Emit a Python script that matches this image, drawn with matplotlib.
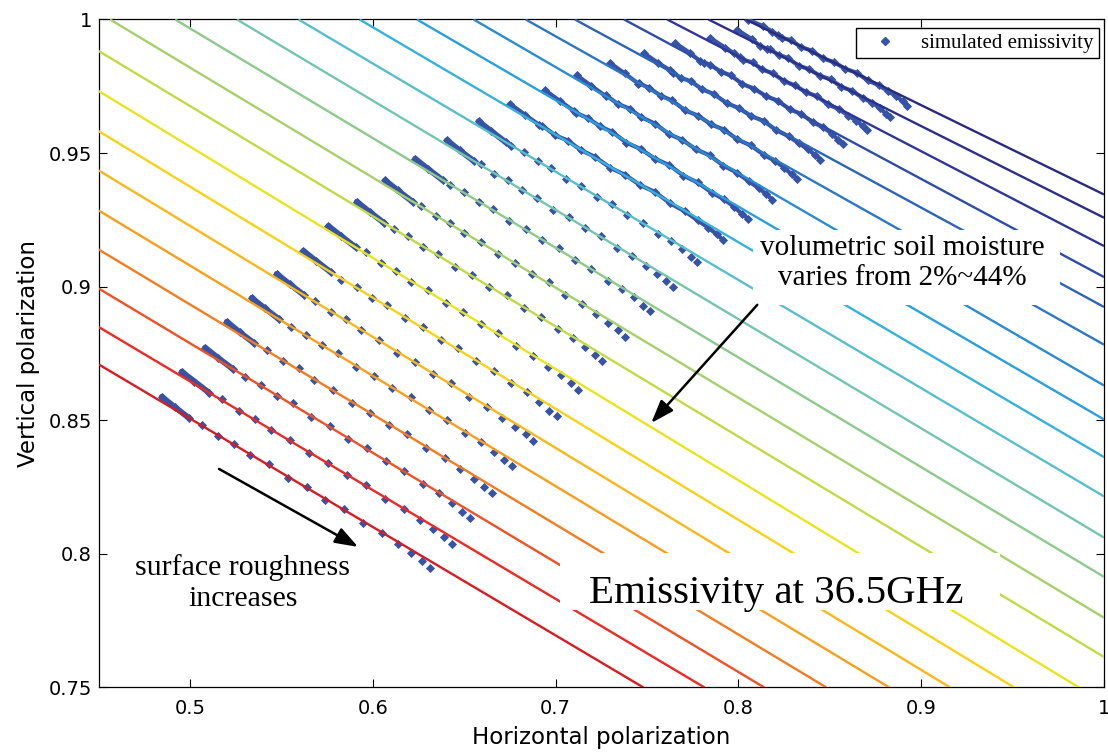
import numpy as np
import matplotlib
matplotlib.use("Agg")
import matplotlib.pyplot as plt
from matplotlib.lines import Line2D
from matplotlib.patches import Rectangle
from matplotlib.colors import LinearSegmentedColormap

# ---------------- data ----------------
# constant-moisture lines: visible end points (H, V), bottom line first (wettest)
line_h_start = [0.45, 0.45, 0.45, 0.45, 0.45, 0.45, 0.45, 0.45, 0.45,
                0.4562, 0.4918, 0.5256, 0.5593, 0.5927, 0.6241, 0.6551,
                0.6836, 0.7105, 0.7374, 0.7610, 0.7836, 0.8040]
line_v_start = [0.8709, 0.8849, 0.8993, 0.9139, 0.9285, 0.9435, 0.9582, 0.9732, 0.9882,
                1.0, 1.0, 1.0, 1.0, 1.0, 1.0, 1.0, 1.0, 1.0, 1.0, 1.0, 1.0, 1.0]
line_h_end = [0.7480, 0.7814, 0.8141, 0.8481, 0.8825, 0.9158, 0.9509, 0.9863,
              1.0, 1.0, 1.0, 1.0, 1.0, 1.0, 1.0, 1.0, 1.0, 1.0, 1.0, 1.0, 1.0, 1.0]
line_v_end = [0.75, 0.75, 0.75, 0.75, 0.75, 0.75, 0.75, 0.75,
              0.7614, 0.7761, 0.7914, 0.8061, 0.8215, 0.8362, 0.8503, 0.8630,
              0.8783, 0.8924, 0.9036, 0.9152, 0.9258, 0.9345]

# simulated emissivity: dense start of each cluster
dense_h = [
    [0.4845, 0.4915, 0.4995], [0.4954, 0.5024, 0.5104], [0.5082, 0.5152, 0.5232],
    [0.5201, 0.5271, 0.5351], [0.5337, 0.5407, 0.5487], [0.5474, 0.5544, 0.5624],
    [0.5620, 0.5690, 0.5770], [0.5757, 0.5827, 0.5907], [0.5912, 0.5982, 0.6062],
    [0.6067, 0.6137, 0.6217], [0.6231, 0.6301, 0.6381], [0.6405, 0.6475, 0.6555],
    [0.6578, 0.6648, 0.6728], [0.6751, 0.6831, 0.6911], [0.6943, 0.7023, 0.7103],
    [0.7116, 0.7196, 0.7276], [0.7298, 0.7378, 0.7458], [0.7481, 0.7561, 0.7641],
    [0.7654, 0.7734, 0.7814], [0.7846, 0.7926, 0.8006], [0.7994, 0.8074, 0.8154],
    [0.8054, 0.8134, 0.8214]]
dense_v = [
    [0.8588, 0.8550, 0.8508], [0.8682, 0.8645, 0.8603], [0.8772, 0.8734, 0.8693],
    [0.8869, 0.8830, 0.8788], [0.8958, 0.8920, 0.8878], [0.9048, 0.9010, 0.8968],
    [0.9134, 0.9096, 0.9054], [0.9227, 0.9189, 0.9147], [0.9318, 0.9280, 0.9238],
    [0.9398, 0.9360, 0.9318], [0.9479, 0.9441, 0.9399], [0.9548, 0.9510, 0.9469],
    [0.9619, 0.9582, 0.9540], [0.9684, 0.9644, 0.9605], [0.9735, 0.9695, 0.9656],
    [0.9791, 0.9751, 0.9712], [0.9837, 0.9798, 0.9761], [0.9875, 0.9837, 0.9801],
    [0.9912, 0.9875, 0.9838], [0.9931, 0.9895, 0.9859], [0.9961, 0.9926, 0.9891],
    [0.9999, 0.9975, 0.9942]]

# simulated emissivity: remaining points of each cluster
pts_h = [
    [0.5065, 0.5153, 0.5241, 0.5329, 0.5432, 0.5535, 0.5638, 0.5740, 0.5843, 0.5946, 0.6049, 0.6137, 0.6210, 0.6269, 0.6313],
    [0.5176, 0.5265, 0.5354, 0.5442, 0.5546, 0.5650, 0.5753, 0.5857, 0.5960, 0.6064, 0.6168, 0.6256, 0.6330, 0.6390, 0.6434],
    [0.5300, 0.5387, 0.5474, 0.5561, 0.5662, 0.5764, 0.5866, 0.5967, 0.6069, 0.6170, 0.6272, 0.6359, 0.6431, 0.6489, 0.6533],
    [0.5419, 0.5506, 0.5593, 0.5680, 0.5782, 0.5883, 0.5985, 0.6087, 0.6188, 0.6290, 0.6392, 0.6479, 0.6551, 0.6609, 0.6653],
    [0.5551, 0.5636, 0.5722, 0.5807, 0.5907, 0.6007, 0.6107, 0.6206, 0.6306, 0.6406, 0.6506, 0.6591, 0.6662, 0.6719, 0.6762],
    [0.5684, 0.5769, 0.5853, 0.5937, 0.6035, 0.6133, 0.6232, 0.6330, 0.6428, 0.6526, 0.6624, 0.6709, 0.6779, 0.6835, 0.6877],
    [0.5828, 0.5911, 0.5995, 0.6078, 0.6175, 0.6272, 0.6370, 0.6467, 0.6564, 0.6661, 0.6758, 0.6841, 0.6911, 0.6966, 0.7008],
    [0.5962, 0.6044, 0.6126, 0.6208, 0.6303, 0.6399, 0.6495, 0.6590, 0.6686, 0.6782, 0.6877, 0.6959, 0.7027, 0.7082, 0.7123],
    [0.6113, 0.6194, 0.6275, 0.6355, 0.6449, 0.6543, 0.6637, 0.6731, 0.6825, 0.6919, 0.7013, 0.7094, 0.7161, 0.7215, 0.7255],
    [0.6264, 0.6343, 0.6422, 0.6501, 0.6593, 0.6685, 0.6777, 0.6869, 0.6961, 0.7053, 0.7144, 0.7223, 0.7289, 0.7342, 0.7381],
    [0.6424, 0.6501, 0.6578, 0.6656, 0.6746, 0.6836, 0.6926, 0.7016, 0.7106, 0.7196, 0.7286, 0.7364, 0.7428, 0.7479, 0.7518],
    [0.6591, 0.6665, 0.6739, 0.6814, 0.6900, 0.6987, 0.7074, 0.7160, 0.7247, 0.7334, 0.7420, 0.7494, 0.7556, 0.7606, 0.7643],
    [0.6758, 0.6829, 0.6901, 0.6973, 0.7057, 0.7141, 0.7224, 0.7308, 0.7392, 0.7476, 0.7560, 0.7631, 0.7691, 0.7739, 0.7775],
    [0.6926, 0.6996, 0.7066, 0.7136, 0.7217, 0.7299, 0.7381, 0.7462, 0.7544, 0.7626, 0.7707, 0.7777, 0.7835, 0.7882, 0.7917],
    [0.7110, 0.7176, 0.7243, 0.7310, 0.7387, 0.7465, 0.7543, 0.7621, 0.7698, 0.7776, 0.7854, 0.7921, 0.7976, 0.8021, 0.8054],
    [0.7276, 0.7340, 0.7405, 0.7469, 0.7544, 0.7618, 0.7693, 0.7768, 0.7843, 0.7918, 0.7993, 0.8057, 0.8110, 0.8153, 0.8185],
    [0.7452, 0.7513, 0.7574, 0.7636, 0.7708, 0.7779, 0.7851, 0.7923, 0.7994, 0.8066, 0.8138, 0.8199, 0.8250, 0.8291, 0.8322],
    [0.7626, 0.7684, 0.7742, 0.7800, 0.7868, 0.7935, 0.8003, 0.8071, 0.8139, 0.8206, 0.8274, 0.8332, 0.8380, 0.8419, 0.8448],
    [0.7792, 0.7847, 0.7902, 0.7958, 0.8022, 0.8086, 0.8151, 0.8215, 0.8280, 0.8344, 0.8408, 0.8464, 0.8510, 0.8546, 0.8574],
    [0.7975, 0.8026, 0.8078, 0.8129, 0.8190, 0.8250, 0.8310, 0.8370, 0.8430, 0.8490, 0.8550, 0.8602, 0.8645, 0.8679, 0.8705],
    [0.8120, 0.8170, 0.8220, 0.8270, 0.8329, 0.8387, 0.8446, 0.8505, 0.8563, 0.8622, 0.8680, 0.8731, 0.8772, 0.8806, 0.8831],
    [0.8185, 0.8237, 0.8289, 0.8341, 0.8402, 0.8463, 0.8524, 0.8585, 0.8646, 0.8707, 0.8767, 0.8820, 0.8863, 0.8898, 0.8924]]
pts_v = [
    [0.8484, 0.8441, 0.8413, 0.8370, 0.8335, 0.8285, 0.8249, 0.8203, 0.8168, 0.8117, 0.8079, 0.8037, 0.8003, 0.7973, 0.7947],
    [0.8578, 0.8535, 0.8506, 0.8463, 0.8427, 0.8377, 0.8341, 0.8294, 0.8258, 0.8207, 0.8168, 0.8126, 0.8092, 0.8062, 0.8036],
    [0.8662, 0.8633, 0.8592, 0.8563, 0.8512, 0.8477, 0.8431, 0.8396, 0.8346, 0.8310, 0.8261, 0.8226, 0.8191, 0.8157, 0.8135],
    [0.8764, 0.8722, 0.8694, 0.8651, 0.8615, 0.8565, 0.8529, 0.8482, 0.8448, 0.8397, 0.8358, 0.8316, 0.8282, 0.8252, 0.8226],
    [0.8849, 0.8821, 0.8780, 0.8751, 0.8701, 0.8667, 0.8620, 0.8586, 0.8537, 0.8501, 0.8453, 0.8418, 0.8383, 0.8350, 0.8328],
    [0.8947, 0.8905, 0.8878, 0.8836, 0.8801, 0.8752, 0.8717, 0.8672, 0.8638, 0.8588, 0.8550, 0.8509, 0.8476, 0.8447, 0.8421],
    [0.9026, 0.8999, 0.8959, 0.8931, 0.8881, 0.8848, 0.8802, 0.8769, 0.8721, 0.8685, 0.8638, 0.8604, 0.8569, 0.8536, 0.8515],
    [0.9128, 0.9087, 0.9060, 0.9019, 0.8986, 0.8938, 0.8904, 0.8859, 0.8826, 0.8778, 0.8741, 0.8701, 0.8668, 0.8640, 0.8615],
    [0.9214, 0.9188, 0.9149, 0.9122, 0.9074, 0.9043, 0.8999, 0.8967, 0.8920, 0.8887, 0.8841, 0.8809, 0.8775, 0.8743, 0.8722],
    [0.9303, 0.9263, 0.9239, 0.9200, 0.9168, 0.9122, 0.9090, 0.9047, 0.9016, 0.8969, 0.8934, 0.8896, 0.8865, 0.8837, 0.8813],
    [0.9379, 0.9354, 0.9317, 0.9292, 0.9246, 0.9216, 0.9174, 0.9144, 0.9099, 0.9067, 0.9023, 0.8992, 0.8960, 0.8929, 0.8909],
    [0.9458, 0.9421, 0.9398, 0.9361, 0.9332, 0.9288, 0.9259, 0.9218, 0.9190, 0.9146, 0.9113, 0.9077, 0.9047, 0.9021, 0.8998],
    [0.9525, 0.9503, 0.9469, 0.9446, 0.9403, 0.9376, 0.9337, 0.9310, 0.9268, 0.9239, 0.9199, 0.9170, 0.9140, 0.9111, 0.9092],
    [0.9603, 0.9567, 0.9547, 0.9512, 0.9485, 0.9445, 0.9418, 0.9380, 0.9354, 0.9312, 0.9282, 0.9248, 0.9221, 0.9196, 0.9174],
    [0.9651, 0.9631, 0.9600, 0.9579, 0.9539, 0.9515, 0.9479, 0.9455, 0.9416, 0.9390, 0.9352, 0.9327, 0.9299, 0.9271, 0.9254],
    [0.9716, 0.9684, 0.9666, 0.9634, 0.9610, 0.9572, 0.9549, 0.9514, 0.9491, 0.9453, 0.9426, 0.9394, 0.9369, 0.9346, 0.9325],
    [0.9760, 0.9743, 0.9715, 0.9697, 0.9660, 0.9640, 0.9607, 0.9587, 0.9551, 0.9529, 0.9494, 0.9471, 0.9446, 0.9420, 0.9404],
    [0.9810, 0.9782, 0.9768, 0.9739, 0.9720, 0.9687, 0.9668, 0.9638, 0.9620, 0.9586, 0.9563, 0.9536, 0.9514, 0.9493, 0.9475],
    [0.9843, 0.9830, 0.9805, 0.9791, 0.9758, 0.9741, 0.9713, 0.9696, 0.9664, 0.9646, 0.9615, 0.9596, 0.9573, 0.9549, 0.9535],
    [0.9874, 0.9849, 0.9839, 0.9813, 0.9798, 0.9769, 0.9753, 0.9727, 0.9713, 0.9682, 0.9664, 0.9640, 0.9621, 0.9602, 0.9585],
    [0.9900, 0.9890, 0.9867, 0.9856, 0.9827, 0.9814, 0.9789, 0.9776, 0.9748, 0.9733, 0.9706, 0.9689, 0.9669, 0.9648, 0.9635],
    [0.9955, 0.9931, 0.9922, 0.9897, 0.9883, 0.9854, 0.9840, 0.9815, 0.9801, 0.9772, 0.9754, 0.9731, 0.9713, 0.9695, 0.9678]]

x_ticks = [0.5, 0.6, 0.7, 0.8, 0.9, 1.0]
x_tick_labels = ["0.5", "0.6", "0.7", "0.8", "0.9", "1"]
y_ticks = [0.75, 0.8, 0.85, 0.9, 0.95, 1.0]
y_tick_labels = ["0.75", "0.8", "0.85", "0.9", "0.95", "1"]

x_label = "Horizontal polarization"
y_label = "Vertical polarization"
legend_label = "simulated emissivity"
moisture_note = "volumetric soil moisture\nvaries from 2%~44%"
roughness_note = "surface roughness\nincreases"
title_note = "Emissivity at 36.5GHz"

# annotation arrows (tail -> head) in data coordinates
roughness_arrow_tail = (0.5158, 0.8318)
roughness_arrow_head = (0.5919, 0.8026)
moisture_arrow_tail = (0.8103, 0.8932)
moisture_arrow_head = (0.7523, 0.8490)

# ---------------- drawing ----------------
band_from = 13                 # clusters drawn as a continuous band
marker_color = "#3653a6"
serif = "Liberation Serif"

# jet-like colour scale as it appears in the (print-converted) reference
print_jet = LinearSegmentedColormap.from_list("print_jet", [
    (0.00, "#262a6e"), (0.11, "#2e3192"), (0.23, "#2b6fc0"), (0.36, "#29abe2"),
    (0.43, "#62c3c6"), (0.50, "#8cc98e"), (0.57, "#b6d552"), (0.64, "#f4e714"),
    (0.70, "#fbbd18"), (0.77, "#f7941d"), (0.83, "#f15a24"), (0.89, "#ed1c24"),
    (1.00, "#a3191f")])

fig = plt.figure(figsize=(11.08, 7.52), dpi=100)
ax = fig.add_axes([0.0891, 0.0858, 0.9073, 0.8883])
ax.set_xlim(0.45, 1.0)
ax.set_ylim(0.75, 1.0)

shades = np.linspace(0.92, 0.04, len(line_h_start))
for i in range(len(line_h_start)):
    ax.plot([line_h_start[i], line_h_end[i]], [line_v_start[i], line_v_end[i]],
            color=print_jet(shades[i]), lw=1.7, zorder=4, solid_capstyle="butt")

for k in range(len(dense_h)):
    if k >= band_from:
        hh = np.array(dense_h[k] + pts_h[k])
        vv = np.array(dense_v[k] + pts_v[k])
        order = np.argsort(hh)
        ax.plot(hh[order], vv[order], color=marker_color, lw=3.0, zorder=3,
                solid_capstyle="round", solid_joinstyle="round")
    else:
        ax.plot(dense_h[k], dense_v[k], color=marker_color, lw=4.2, zorder=3,
                solid_capstyle="round")
    ax.plot(dense_h[k] + pts_h[k], dense_v[k] + pts_v[k], ls="none", marker="D",
            ms=3.9, mfc=marker_color, mec=marker_color, mew=0.6, zorder=3)

# white boxes behind the annotations
ax.add_patch(Rectangle((0.6508, 0.5726), 0.3054, 0.1123, transform=ax.transAxes,
                       facecolor="white", edgecolor="none", zorder=5))
ax.add_patch(Rectangle((0.459, 0.116), 0.4376, 0.0853, transform=ax.transAxes,
                       facecolor="white", edgecolor="none", zorder=5))

ax.text(0.799, 0.6355, moisture_note, transform=ax.transAxes, ha="center", va="center",
        fontsize=21, family=serif, zorder=6, linespacing=1.2)
ax.text(0.6742, 0.1265, title_note, transform=ax.transAxes, ha="center", va="baseline",
        fontsize=29.5, family=serif, zorder=6)
ax.text(0.1435, 0.2, roughness_note, transform=ax.transAxes, ha="center", va="top",
        fontsize=21.5, family=serif, zorder=6, linespacing=1.25)

arrow_style = dict(arrowstyle="-|>,head_length=0.7,head_width=0.25", color="k", lw=1.8,
                   mutation_scale=20, shrinkA=0, shrinkB=0)
ax.annotate("", xy=roughness_arrow_head, xytext=roughness_arrow_tail,
            arrowprops=arrow_style, zorder=7)
ax.annotate("", xy=moisture_arrow_head, xytext=moisture_arrow_tail,
            arrowprops=arrow_style, zorder=7)

handle = Line2D([], [], ls="none", marker="D", ms=3.6, color=marker_color, label=legend_label)
leg = ax.legend(handles=[handle], loc="upper right", bbox_to_anchor=(0.995, 0.987),
                borderaxespad=0, fancybox=False, edgecolor="black", framealpha=1,
                prop=dict(family=serif, size=15), handlelength=2.3,
                handletextpad=0.6, borderpad=0.25)
leg.get_frame().set_linewidth(1.0)
leg.set_zorder(8)

ax.set_xticks(x_ticks)
ax.set_xticklabels(x_tick_labels)
ax.set_yticks(y_ticks)
ax.set_yticklabels(y_tick_labels)
ax.tick_params(direction="in", length=5.5, width=0.8, top=True, right=True,
               labelsize=14, colors="black")
ax.tick_params(axis="x", pad=8)
ax.tick_params(axis="y", pad=5)
for s in ax.spines.values():
    s.set_linewidth(0.9)

ax.set_xlabel(x_label, fontsize=16.5, labelpad=6)
ax.set_ylabel(y_label, fontsize=16.5, labelpad=6)

fig.savefig("out.png", dpi=100)
